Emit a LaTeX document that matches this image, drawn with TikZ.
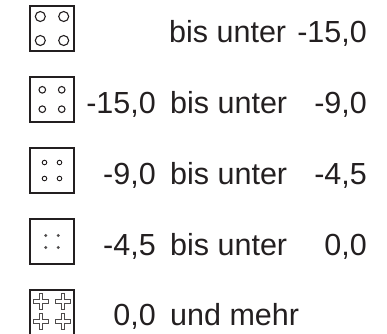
\documentclass[tikz,border=0pt]{standalone}
\usepackage{fontspec}
\setmainfont{Liberation Sans}
\definecolor{ink}{HTML}{231F20}
\begin{document}
\begin{tikzpicture}[x=1pt,y=-1pt,
  keybox/.style={draw=ink,line width=1.6pt,minimum width=44pt,minimum height=45pt,inner sep=0pt},
  ring/.style={draw=ink,line width=1.1pt},
  lbl/.style={inner sep=0pt,text=ink,font=\fontsize{30.5}{36}\selectfont},
  crossmark/.pic={\draw[ink!80,line width=1pt,fill=white]
     (-1.9,-7.7) -- (1.9,-7.7) -- (1.9,-1.9) -- (7.7,-1.9) -- (7.7,1.9) -- (1.9,1.9)
     -- (1.9,7.7) -- (-1.9,7.7) -- (-1.9,1.9) -- (-7.7,1.9) -- (-7.7,-1.9) -- (-1.9,-1.9) -- cycle;}]
\useasboundingbox (0,0) rectangle (387,333);
\begin{scope}
\clip (0,0) rectangle (387,333);

% class 1: large rings
\node[keybox] (b1) at (52,28.5) {};
\foreach \dx in {-11.7,11.7}\foreach \dy in {-12,12}
  \draw[ring] ([shift={(\dx,\dy)}]b1.center) circle (5);

% class 2: medium rings
\node[keybox] (b2) at (52,99.5) {};
\foreach \dx in {-9.7,9.7}\foreach \dy in {-9.7,9.7}
  \draw[ring] ([shift={(\dx,\dy)}]b2.center) circle (3.3);

% class 3: small rings
\node[keybox] (b3) at (52,170.5) {};
\foreach \dx in {-7.5,7.5}\foreach \dy in {-8,8}
  \draw[ring,line width=0.9pt] ([shift={(\dx,\dy)}]b3.center) circle (2.3);

% class 4: dots
\node[keybox] (b4) at (52,241.5) {};
\foreach \dx in {-6.3,6.3}\foreach \dy in {-6,6}
  \fill[ink!80] ([shift={(\dx,\dy)}]b4.center) circle (1.6);

% class 5: crosses
\node[keybox] (b5) at (52,312.5) {};
\foreach \dx in {-11,11}\foreach \dy in {-11,9}
  \pic at ([shift={(\dx,\dy)}]b5.center) {crossmark};
\end{scope}

% labels
\node[lbl,anchor=base west] (t1) at (169,42) {bis unter};
\node[lbl,anchor=base east] (v1) at (367,42) {-15,0};

\node[lbl,anchor=base east] (f2) at (156,113) {-15,0};
\node[lbl,anchor=base west] (t2) at (170,113) {bis unter};
\node[lbl,anchor=base east] (v2) at (367,113) {-9,0};

\node[lbl,anchor=base east] (f3) at (156,184) {-9,0};
\node[lbl,anchor=base west] (t3) at (170,184) {bis unter};
\node[lbl,anchor=base east] (v3) at (367,184) {-4,5};

\node[lbl,anchor=base east] (f4) at (156,255) {-4,5};
\node[lbl,anchor=base west] (t4) at (170,255) {bis unter};
\node[lbl,anchor=base east] (v4) at (367,255) {0,0};

\node[lbl,anchor=base east] (f5) at (156,325) {0,0};
\node[lbl,anchor=base west] (t5) at (170,325) {und mehr};
\end{tikzpicture}
\end{document}
